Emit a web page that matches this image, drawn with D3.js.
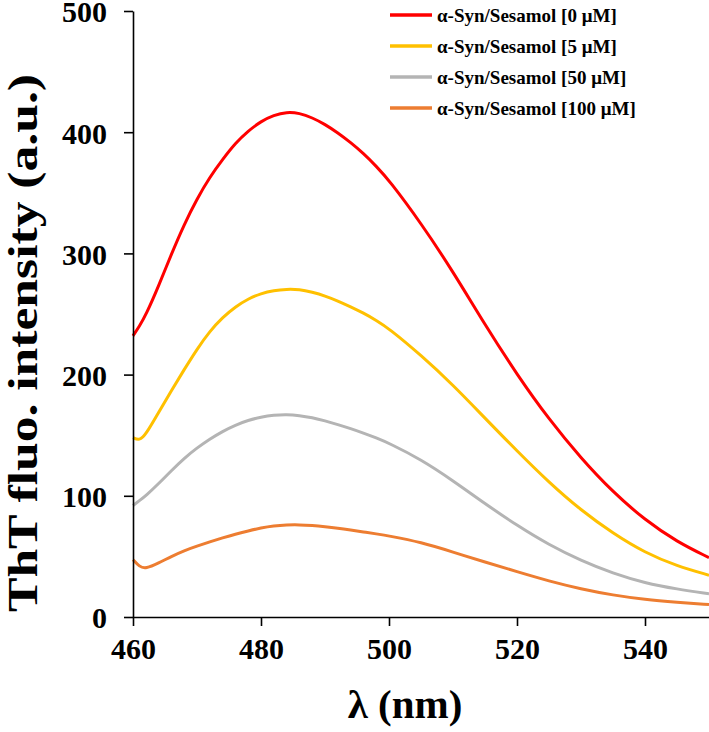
<!DOCTYPE html>
<html>
<head>
<meta charset="utf-8">
<script src="https://cdn.jsdelivr.net/npm/d3@7/dist/d3.min.js"></script>
<style>
  html, body { margin: 0; padding: 0; background: #fff; }
  svg { display: block; }
  text { font-family: "Liberation Serif", "Times New Roman", serif; font-weight: bold; fill: #000; }
</style>
</head>
<body>
<svg id="chart" width="709" height="732"></svg>
<script>
// ---- data ----
const wavelengths = [460,461,462,464,466,468,470,472,474,476,478,480,482,484,486,488,490,492,494,496,498,500,505,510,515,520,525,530,535,540,545,550];
const sesamol0   = [232,240,249,273,299.5,324,345,363,377.5,391,401,409,414,416.7,415.8,412,406.5,399.5,391.5,382.5,372,360.5,325,285,241,200,163,131,103,80,62,49];
const sesamol5   = [148,145.5,150.5,168.9,186.8,204.2,221,235.8,247.2,256,262.5,267,269.5,270.5,270.3,268,265,260.8,256,250.8,244.8,238,216,191.5,164,137,111,88,69,53,42,34.5];
const sesamol50  = [92,96,100,110,120.8,131,139.5,146.8,153.2,158.4,162.3,165,166.6,167.1,166.3,164.5,161.9,158.8,155.5,151.8,147.8,143.4,130,112.5,93.5,75.5,59.5,46.5,36,28,23,19.2];
const sesamol100 = [47.3,41.5,39.8,44.5,50,54.8,58.5,62,65.3,68.4,71,73.5,75.2,76,76.1,75.5,74.5,73.3,71.8,70.2,68.6,66.9,61.7,53.6,45.3,37.4,29.6,23.1,18,14.4,12.2,10.3];
const seriesNames = ["α-Syn/Sesamol [0 μM]","α-Syn/Sesamol [5 μM]","α-Syn/Sesamol [50 μM]","α-Syn/Sesamol [100 μM]"];
const seriesColors = ["#FF0000","#FFC000","#B4B4B4","#ED7D31"];
const xTicks = [460,480,500,520,540];
const yTicks = [0,100,200,300,400,500];
const xTitle = "λ (nm)";
const yTitle = "ThT fluo. intensity (a.u.)";

const seriesValues = [sesamol0, sesamol5, sesamol50, sesamol100];

// ---- layout ----
const svg = d3.select("#chart");
const x = d3.scaleLinear().domain([460, 550]).range([133, 709]);
const y = d3.scaleLinear().domain([0, 500]).range([617, 11]);

// lines
const line = d3.line()
  .x(d => x(d[0]))
  .y(d => y(d[1]))
  .curve(d3.curveBasis);

seriesValues.forEach((vals, i) => {
  const pts = wavelengths.map((w, j) => [w, vals[j]]);
  svg.append("path")
    .attr("d", line(pts))
    .attr("fill", "none")
    .attr("stroke", seriesColors[i])
    .attr("stroke-width", 3)
    .attr("stroke-linejoin", "round");
});

// axes
const xAxis = d3.axisBottom(x).tickValues(xTicks).tickSize(9).tickSizeOuter(0).tickFormat(d3.format("d"));
const yAxis = d3.axisLeft(y).tickValues(yTicks).tickSize(9).tickSizeOuter(0).tickFormat(d3.format("d"));

const gx = svg.append("g").attr("transform", `translate(0,${y(0)})`).call(xAxis);
const gy = svg.append("g").attr("transform", `translate(${x(460)},0)`).call(yAxis);

[gx, gy].forEach(g => {
  g.select(".domain").attr("stroke", "#000").attr("stroke-width", 1.6);
  g.selectAll(".tick line").attr("stroke", "#000").attr("stroke-width", 1.6);
  g.selectAll(".tick text")
    .style("font-family", '"Liberation Serif", "Times New Roman", serif')
    .style("font-weight", "bold")
    .style("font-size", "30px")
    .attr("fill", "#000");
});
gx.selectAll(".tick text").attr("y", 21).attr("dy", "0.71em");
gy.selectAll(".tick text").attr("x", -26).attr("dy", "0.36em");

// axis titles
svg.append("text")
  .attr("x", 405).attr("y", 718)
  .attr("text-anchor", "middle")
  .style("font-size", "41px")
  .text(xTitle);

svg.append("text")
  .attr("transform", "translate(37,343) rotate(-90)")
  .attr("text-anchor", "middle")
  .style("font-size", "42px")
  .attr("textLength", 538)
  .attr("lengthAdjust", "spacingAndGlyphs")
  .text(yTitle);

// legend
const legend = svg.append("g");
seriesNames.forEach((name, i) => {
  const cy = 15 + i * 31;
  legend.append("line")
    .attr("x1", 390).attr("x2", 432)
    .attr("y1", cy).attr("y2", cy)
    .attr("stroke", seriesColors[i])
    .attr("stroke-width", 3.5);
  legend.append("text")
    .attr("x", 437).attr("y", cy)
    .attr("dy", "0.35em")
    .style("font-size", "19px")
    .text(name);
});
</script>
</body>
</html>
